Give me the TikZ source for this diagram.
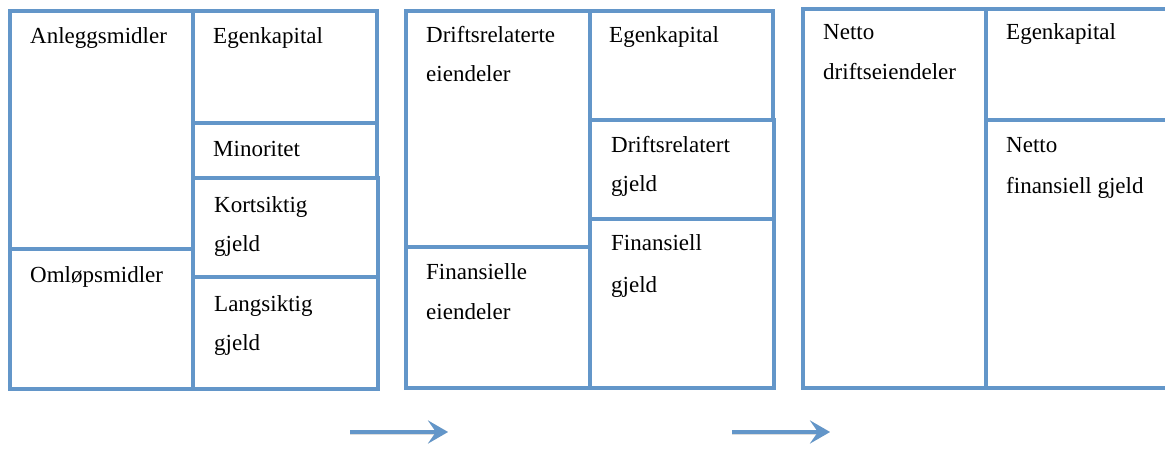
\documentclass[tikz,border=0pt]{standalone}
\usepackage{fontspec}
\setmainfont{Liberation Serif}
\usetikzlibrary{arrows.meta}
\definecolor{cellblue}{RGB}{99,150,201}
\tikzset{
  cell/.style={draw=cellblue, line width=4pt},
  lbl/.style={anchor=base west, inner sep=0pt, font=\fontsize{23}{23}\selectfont},
  flow/.style={draw=cellblue, line width=4pt, -{Stealth[length=20pt,width=23pt,inset=8pt]}},
  flowshade/.style={draw=black!45, opacity=0.3, line width=5pt, -{Stealth[length=20pt,width=23pt,inset=8pt]}},
}
\begin{document}
\begin{tikzpicture}[x=1pt,y=-1pt]
\useasboundingbox (0,0) rectangle (1165,450);
\clip (0,0) rectangle (1165,450);

% --- Balance sheet: assets | equity and liabilities
\draw[cell] (10,11) rectangle (193,249);
\draw[cell] (10,249) rectangle (193,389);
\draw[cell] (193,11) rectangle (377,123);
\draw[cell] (193,123) rectangle (377,178);
\draw[cell] (193,178) rectangle (378,277);
\draw[cell] (193,277) rectangle (378,389);
\node[lbl] (anl) at (30,43) {Anleggsmidler};
\node[lbl] (oml) at (30,282) {Omløpsmidler};
\node[lbl] (ek1) at (213,43) {Egenkapital};
\node[lbl] (min) at (213,156) {Minoritet};
\node[lbl] (kort1) at (214,212) {Kortsiktig};
\node[lbl] (kort2) at (214,251) {gjeld};
\node[lbl] (lang1) at (214,311) {Langsiktig};
\node[lbl] (lang2) at (214,350) {gjeld};

% --- Operating versus financial items
\draw[cell] (406,11) rectangle (590,247);
\draw[cell] (406,247) rectangle (590,388);
\draw[cell] (590,11) rectangle (773,120);
\draw[cell] (590,120) rectangle (774,219);
\draw[cell] (590,219) rectangle (774,388);
\node[lbl] (dre1) at (426,42) {Driftsrelaterte};
\node[lbl] (dre2) at (426,81) {eiendeler};
\node[lbl] (fe1) at (426,279) {Finansielle};
\node[lbl] (fe2) at (426,319) {eiendeler};
\node[lbl] (ek2) at (609,42) {Egenkapital};
\node[lbl] (drg1) at (611,152) {Driftsrelatert};
\node[lbl] (drg2) at (611,191) {gjeld};
\node[lbl] (fg1) at (611,250) {Finansiell};
\node[lbl] (fg2) at (611,292) {gjeld};

% --- Net operating assets and net financial debt
\draw[cell] (803,9) rectangle (986,388);
\draw[cell] (986,9) rectangle (1180,120);
\draw[cell] (986,120) rectangle (1180,388);
\node[lbl] (nd1) at (823,39) {Netto};
\node[lbl] (nd2) at (823,79) {driftseiendeler};
\node[lbl] (ek3) at (1006,39) {Egenkapital};
\node[lbl] (nf1) at (1006,152) {Netto};
\node[lbl] (nf2) at (1006,193) {finansiell gjeld};

% --- Transition arrows (with a soft drop shadow)
\coordinate (a1s) at (350,432);
\coordinate (a1e) at (448,432);
\coordinate (a2s) at (732,432);
\coordinate (a2e) at (830,432);
\draw[flowshade, shift={(1,3)}] (a1s) -- (a1e);
\draw[flowshade, shift={(1,3)}] (a2s) -- (a2e);
\draw[flow] (a1s) -- (a1e);
\draw[flow] (a2s) -- (a2e);
\end{tikzpicture}
\end{document}
